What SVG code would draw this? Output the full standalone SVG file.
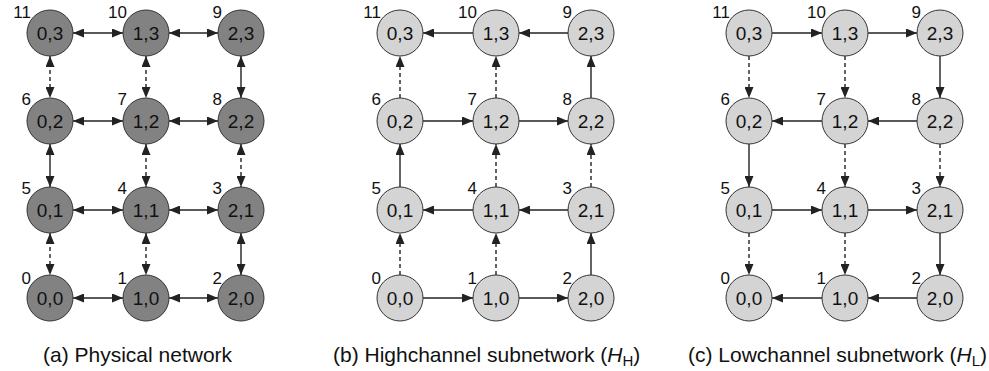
<svg xmlns="http://www.w3.org/2000/svg" width="989" height="371" viewBox="0 0 989 371">
  <style>
    .dark { fill: #828282; stroke: #333; stroke-width: 1; }
    .light { fill: #d4d4d4; stroke: #333; stroke-width: 1; }
    .lbl { font-family: "Liberation Sans", Arial, sans-serif; font-size: 19px; fill: #111; text-anchor: middle; }
    .idx { font-family: "Liberation Sans", Arial, sans-serif; font-size: 17px; fill: #111; text-anchor: end; }
    .cap { font-family: "Liberation Sans", Arial, sans-serif; font-size: 21px; fill: #111; }
    .solid { stroke: #222; stroke-width: 1.4; fill: none; }
    .dash { stroke: #222; stroke-width: 1.4; fill: none; stroke-dasharray: 4 3; }
    .bi { marker-start: url(#arr); marker-end: url(#arr); }
    .one { marker-end: url(#arr); }
  </style>
  <defs>
    <marker id="arr" markerUnits="userSpaceOnUse" markerWidth="11" markerHeight="9" refX="11" refY="4.5" orient="auto-start-reverse">
      <path d="M0,0 L11,4.5 L0,9 z" fill="#222"/>
    </marker>
  </defs>

  <!-- (a) physical network: bidirectional links -->
  <g id="connectors-a">
    <line class="solid bi" x1="73" y1="33" x2="123" y2="33"/>
    <line class="solid bi" x1="169" y1="33" x2="218" y2="33"/>
    <line class="solid bi" x1="73" y1="121" x2="123" y2="121"/>
    <line class="solid bi" x1="169" y1="121" x2="218" y2="121"/>
    <line class="solid bi" x1="73" y1="210" x2="123" y2="210"/>
    <line class="solid bi" x1="169" y1="210" x2="218" y2="210"/>
    <line class="solid bi" x1="73" y1="298" x2="123" y2="298"/>
    <line class="solid bi" x1="169" y1="298" x2="218" y2="298"/>
    <line class="dash bi" x1="50" y1="56" x2="50" y2="98"/>
    <line class="solid bi" x1="50" y1="144" x2="50" y2="187"/>
    <line class="dash bi" x1="50" y1="233" x2="50" y2="275"/>
    <line class="dash bi" x1="146" y1="56" x2="146" y2="98"/>
    <line class="dash bi" x1="146" y1="144" x2="146" y2="187"/>
    <line class="dash bi" x1="146" y1="233" x2="146" y2="275"/>
    <line class="solid bi" x1="241" y1="56" x2="241" y2="98"/>
    <line class="dash bi" x1="241" y1="144" x2="241" y2="187"/>
    <line class="solid bi" x1="241" y1="233" x2="241" y2="275"/>
  </g>

  <!-- (b) high-channel subnetwork -->
  <g id="connectors-b">
    <line class="solid one" x1="568" y1="33" x2="519" y2="33"/>
    <line class="solid one" x1="473" y1="33" x2="423" y2="33"/>
    <line class="solid one" x1="423" y1="121" x2="473" y2="121"/>
    <line class="solid one" x1="519" y1="121" x2="568" y2="121"/>
    <line class="solid one" x1="568" y1="210" x2="519" y2="210"/>
    <line class="solid one" x1="473" y1="210" x2="423" y2="210"/>
    <line class="solid one" x1="423" y1="298" x2="473" y2="298"/>
    <line class="solid one" x1="519" y1="298" x2="568" y2="298"/>
    <line class="dash one" x1="400" y1="275" x2="400" y2="233"/>
    <line class="solid one" x1="400" y1="187" x2="400" y2="144"/>
    <line class="dash one" x1="400" y1="98" x2="400" y2="56"/>
    <line class="dash one" x1="496" y1="275" x2="496" y2="233"/>
    <line class="dash one" x1="496" y1="187" x2="496" y2="144"/>
    <line class="dash one" x1="496" y1="98" x2="496" y2="56"/>
    <line class="solid one" x1="591" y1="275" x2="591" y2="233"/>
    <line class="dash one" x1="591" y1="187" x2="591" y2="144"/>
    <line class="solid one" x1="591" y1="98" x2="591" y2="56"/>
  </g>

  <!-- (c) low-channel subnetwork -->
  <g id="connectors-c">
    <line class="solid one" x1="772" y1="33" x2="822" y2="33"/>
    <line class="solid one" x1="868" y1="33" x2="917" y2="33"/>
    <line class="solid one" x1="917" y1="121" x2="868" y2="121"/>
    <line class="solid one" x1="822" y1="121" x2="772" y2="121"/>
    <line class="solid one" x1="772" y1="210" x2="822" y2="210"/>
    <line class="solid one" x1="868" y1="210" x2="917" y2="210"/>
    <line class="solid one" x1="917" y1="298" x2="868" y2="298"/>
    <line class="solid one" x1="822" y1="298" x2="772" y2="298"/>
    <line class="dash one" x1="749" y1="56" x2="749" y2="98"/>
    <line class="solid one" x1="749" y1="144" x2="749" y2="187"/>
    <line class="dash one" x1="749" y1="233" x2="749" y2="275"/>
    <line class="dash one" x1="845" y1="56" x2="845" y2="98"/>
    <line class="dash one" x1="845" y1="144" x2="845" y2="187"/>
    <line class="dash one" x1="845" y1="233" x2="845" y2="275"/>
    <line class="solid one" x1="940" y1="56" x2="940" y2="98"/>
    <line class="dash one" x1="940" y1="144" x2="940" y2="187"/>
    <line class="solid one" x1="940" y1="233" x2="940" y2="275"/>
  </g>

  <!-- nodes of (a) -->
  <g id="a-0-3"><circle class="dark" cx="50" cy="33" r="23"/><text class="lbl" x="50" y="40">0,3</text><text class="idx" x="31" y="18">11</text></g>
  <g id="a-1-3"><circle class="dark" cx="146" cy="33" r="23"/><text class="lbl" x="146" y="40">1,3</text><text class="idx" x="127" y="18">10</text></g>
  <g id="a-2-3"><circle class="dark" cx="241" cy="33" r="23"/><text class="lbl" x="241" y="40">2,3</text><text class="idx" x="222" y="18">9</text></g>
  <g id="a-0-2"><circle class="dark" cx="50" cy="121" r="23"/><text class="lbl" x="50" y="128">0,2</text><text class="idx" x="31" y="105">6</text></g>
  <g id="a-1-2"><circle class="dark" cx="146" cy="121" r="23"/><text class="lbl" x="146" y="128">1,2</text><text class="idx" x="127" y="105">7</text></g>
  <g id="a-2-2"><circle class="dark" cx="241" cy="121" r="23"/><text class="lbl" x="241" y="128">2,2</text><text class="idx" x="222" y="105">8</text></g>
  <g id="a-0-1"><circle class="dark" cx="50" cy="210" r="23"/><text class="lbl" x="50" y="217">0,1</text><text class="idx" x="31" y="194">5</text></g>
  <g id="a-1-1"><circle class="dark" cx="146" cy="210" r="23"/><text class="lbl" x="146" y="217">1,1</text><text class="idx" x="127" y="194">4</text></g>
  <g id="a-2-1"><circle class="dark" cx="241" cy="210" r="23"/><text class="lbl" x="241" y="217">2,1</text><text class="idx" x="222" y="194">3</text></g>
  <g id="a-0-0"><circle class="dark" cx="50" cy="298" r="23"/><text class="lbl" x="50" y="305">0,0</text><text class="idx" x="31" y="284">0</text></g>
  <g id="a-1-0"><circle class="dark" cx="146" cy="298" r="23"/><text class="lbl" x="146" y="305">1,0</text><text class="idx" x="127" y="284">1</text></g>
  <g id="a-2-0"><circle class="dark" cx="241" cy="298" r="23"/><text class="lbl" x="241" y="305">2,0</text><text class="idx" x="222" y="284">2</text></g>

  <!-- nodes of (b) -->
  <g id="b-0-3"><circle class="light" cx="400" cy="33" r="23"/><text class="lbl" x="400" y="40">0,3</text><text class="idx" x="381" y="18">11</text></g>
  <g id="b-1-3"><circle class="light" cx="496" cy="33" r="23"/><text class="lbl" x="496" y="40">1,3</text><text class="idx" x="477" y="18">10</text></g>
  <g id="b-2-3"><circle class="light" cx="591" cy="33" r="23"/><text class="lbl" x="591" y="40">2,3</text><text class="idx" x="572" y="18">9</text></g>
  <g id="b-0-2"><circle class="light" cx="400" cy="121" r="23"/><text class="lbl" x="400" y="128">0,2</text><text class="idx" x="381" y="105">6</text></g>
  <g id="b-1-2"><circle class="light" cx="496" cy="121" r="23"/><text class="lbl" x="496" y="128">1,2</text><text class="idx" x="477" y="105">7</text></g>
  <g id="b-2-2"><circle class="light" cx="591" cy="121" r="23"/><text class="lbl" x="591" y="128">2,2</text><text class="idx" x="572" y="105">8</text></g>
  <g id="b-0-1"><circle class="light" cx="400" cy="210" r="23"/><text class="lbl" x="400" y="217">0,1</text><text class="idx" x="381" y="194">5</text></g>
  <g id="b-1-1"><circle class="light" cx="496" cy="210" r="23"/><text class="lbl" x="496" y="217">1,1</text><text class="idx" x="477" y="194">4</text></g>
  <g id="b-2-1"><circle class="light" cx="591" cy="210" r="23"/><text class="lbl" x="591" y="217">2,1</text><text class="idx" x="572" y="194">3</text></g>
  <g id="b-0-0"><circle class="light" cx="400" cy="298" r="23"/><text class="lbl" x="400" y="305">0,0</text><text class="idx" x="381" y="284">0</text></g>
  <g id="b-1-0"><circle class="light" cx="496" cy="298" r="23"/><text class="lbl" x="496" y="305">1,0</text><text class="idx" x="477" y="284">1</text></g>
  <g id="b-2-0"><circle class="light" cx="591" cy="298" r="23"/><text class="lbl" x="591" y="305">2,0</text><text class="idx" x="572" y="284">2</text></g>

  <!-- nodes of (c) -->
  <g id="c-0-3"><circle class="light" cx="749" cy="33" r="23"/><text class="lbl" x="749" y="40">0,3</text><text class="idx" x="730" y="18">11</text></g>
  <g id="c-1-3"><circle class="light" cx="845" cy="33" r="23"/><text class="lbl" x="845" y="40">1,3</text><text class="idx" x="826" y="18">10</text></g>
  <g id="c-2-3"><circle class="light" cx="940" cy="33" r="23"/><text class="lbl" x="940" y="40">2,3</text><text class="idx" x="921" y="18">9</text></g>
  <g id="c-0-2"><circle class="light" cx="749" cy="121" r="23"/><text class="lbl" x="749" y="128">0,2</text><text class="idx" x="730" y="105">6</text></g>
  <g id="c-1-2"><circle class="light" cx="845" cy="121" r="23"/><text class="lbl" x="845" y="128">1,2</text><text class="idx" x="826" y="105">7</text></g>
  <g id="c-2-2"><circle class="light" cx="940" cy="121" r="23"/><text class="lbl" x="940" y="128">2,2</text><text class="idx" x="921" y="105">8</text></g>
  <g id="c-0-1"><circle class="light" cx="749" cy="210" r="23"/><text class="lbl" x="749" y="217">0,1</text><text class="idx" x="730" y="194">5</text></g>
  <g id="c-1-1"><circle class="light" cx="845" cy="210" r="23"/><text class="lbl" x="845" y="217">1,1</text><text class="idx" x="826" y="194">4</text></g>
  <g id="c-2-1"><circle class="light" cx="940" cy="210" r="23"/><text class="lbl" x="940" y="217">2,1</text><text class="idx" x="921" y="194">3</text></g>
  <g id="c-0-0"><circle class="light" cx="749" cy="298" r="23"/><text class="lbl" x="749" y="305">0,0</text><text class="idx" x="730" y="284">0</text></g>
  <g id="c-1-0"><circle class="light" cx="845" cy="298" r="23"/><text class="lbl" x="845" y="305">1,0</text><text class="idx" x="826" y="284">1</text></g>
  <g id="c-2-0"><circle class="light" cx="940" cy="298" r="23"/><text class="lbl" x="940" y="305">2,0</text><text class="idx" x="921" y="284">2</text></g>

  <!-- captions -->
  <g id="captions">
    <text class="cap" x="43" y="362">(a) Physical network</text>
    <text class="cap" x="333" y="362">(b) Highchannel subnetwork (<tspan font-style="italic">H</tspan><tspan font-size="15" dy="4">H</tspan><tspan dy="-4">)</tspan></text>
    <text class="cap" x="688" y="362">(c) Lowchannel subnetwork (<tspan font-style="italic">H</tspan><tspan font-size="15" dy="4">L</tspan><tspan dy="-4">)</tspan></text>
  </g>
</svg>
